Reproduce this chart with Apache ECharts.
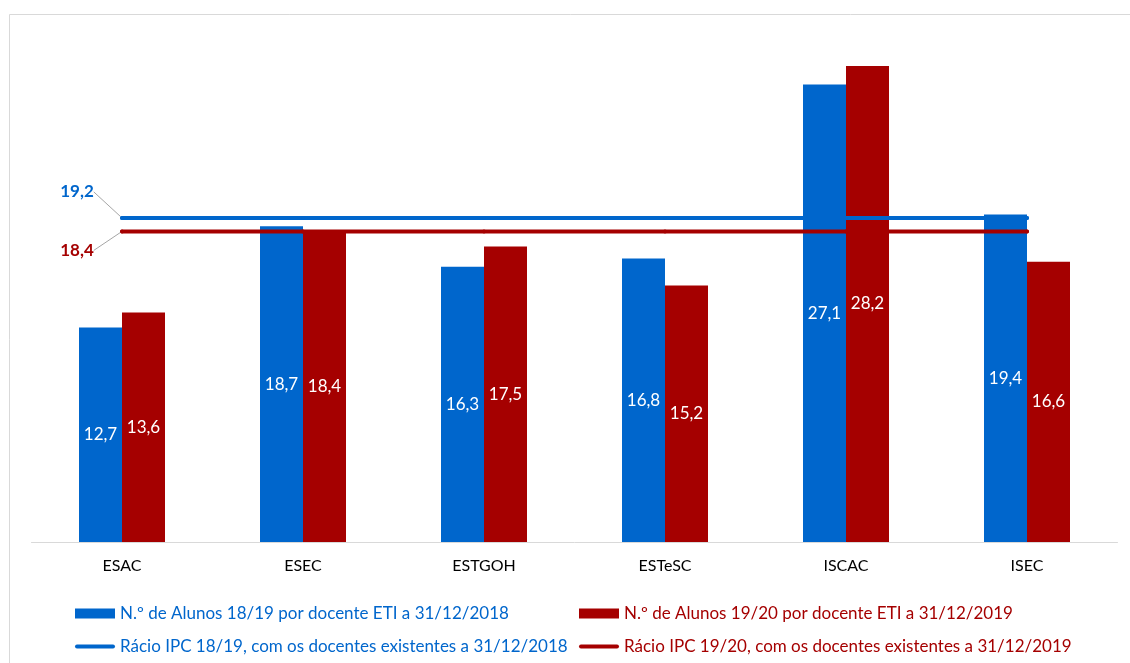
<!DOCTYPE html>
<html>
<head>
<meta charset="utf-8">
<script src="https://cdn.jsdelivr.net/npm/echarts@6/dist/echarts.min.js"></script>
<style>
html, body { margin: 0; padding: 0; background: #fff; }
#chart { width: 1130px; height: 663px; }
</style>
</head>
<body>
<div id="chart"></div>
<script>
'use strict';
var categories = ['ESAC', 'ESEC', 'ESTGOH', 'ESTeSC', 'ISCAC', 'ISEC'];
var alunos1819 = [12.7, 18.7, 16.3, 16.8, 27.1, 19.4];
var alunos1920 = [13.6, 18.4, 17.5, 15.2, 28.2, 16.6];
var racio1819 = [19.2, 19.2, 19.2, 19.2, 19.2, 19.2];
var racio1920 = [18.4, 18.4, 18.4, 18.4, 18.4, 18.4];

var names = [
	'N.º de Alunos 18/19 por docente ETI a 31/12/2018',
	'N.º de Alunos 19/20 por docente ETI a 31/12/2019',
	'Rácio IPC 18/19, com os docentes existentes a 31/12/2018',
	'Rácio IPC 19/20, com os docentes existentes a 31/12/2019'
];

var BLUE = '#0066cc';
var RED = '#a50000';
var FONT = 'Lato';
var lineIcon = 'path://M2,0 L38,0 A2,2 0 0 1 38,4 L2,4 A2,2 0 0 1 2,0 Z';

function fmt(v) {
	return v.toFixed(1).replace('.', ',');
}

function barSeries(name, data, color) {
	return {
		name: name,
		type: 'bar',
		data: data,
		barWidth: 43,
		barGap: '0%',
		itemStyle: { color: color },
		label: {
			show: true,
			position: 'inside',
			color: '#fff',
			fontFamily: FONT,
			fontSize: 17,
			formatter: function (p) { return fmt(p.value); }
		}
	};
}

// rótulo só no primeiro ponto, à esquerda, com linha de chamada
function lineSeries(name, data, color, dy) {
	var items = data.map(function (v, i) {
		return i === 0 ? { value: v, label: { show: true }, labelLine: { show: true } } : v;
	});
	return {
		name: name,
		type: 'line',
		data: items,
		z: 5,
		symbol: 'circle',
		symbolSize: 4,
		itemStyle: { color: color },
		lineStyle: { color: color, width: 4, cap: 'round' },
		label: {
			show: false,
			color: color,
			fontFamily: FONT,
			fontWeight: 'bold',
			fontSize: 17,
			align: 'center',
			verticalAlign: 'middle',
			formatter: function (p) { return fmt(p.value); }
		},
		labelLine: { show: false, lineStyle: { color: '#a6a6a6', width: 1 } },
		labelLayout: function (p) {
			var cx = p.rect.x + p.rect.width / 2;
			var cy = p.rect.y + p.rect.height / 2;
			return {
				x: cx - 45,
				y: cy + dy,
				labelLinePoints: [[cx, cy], [cx - 11, cy + dy], [cx - 19, cy + dy]]
			};
		},
		emphasis: { disabled: true }
	};
}

var chart = echarts.init(document.getElementById('chart'));
chart.setOption({
	backgroundColor: '#fff',
	animation: false,
	textStyle: { fontFamily: FONT },
	graphic: [{
		type: 'rect',
		left: 7, top: 12,
		shape: { width: 1200, height: 700 },
		style: { fill: 'none', stroke: '#d9d9d9', lineWidth: 1 },
		silent: true
	}],
	grid: { left: 31.5, right: 12.5, top: 35.6, bottom: 121, containLabel: false },
	xAxis: {
		type: 'category',
		data: categories,
		axisLine: { lineStyle: { color: '#d9d9d9', width: 1 } },
		axisTick: { show: false },
		axisLabel: { color: '#000', fontFamily: FONT, fontSize: 16, margin: 16 }
	},
	yAxis: {
		type: 'value',
		min: 0,
		max: 30,
		show: false,
		splitLine: { show: false }
	},
	legend: [{
		left: 70, top: 600, orient: 'vertical', itemGap: 16,
		itemWidth: 40, itemHeight: 10,
		textStyle: { fontFamily: FONT, fontSize: 17 },
		data: [
			{ name: names[0], icon: 'rect', textStyle: { color: BLUE } },
			{ name: names[2], icon: lineIcon, textStyle: { color: BLUE } }
		]
	}, {
		left: 574, top: 600, orient: 'vertical', itemGap: 16,
		itemWidth: 40, itemHeight: 10,
		textStyle: { fontFamily: FONT, fontSize: 17 },
		data: [
			{ name: names[1], icon: 'rect', textStyle: { color: RED } },
			{ name: names[3], icon: lineIcon, textStyle: { color: RED } }
		]
	}],
	series: [
		barSeries(names[0], alunos1819, BLUE),
		barSeries(names[1], alunos1920, RED),
		lineSeries(names[2], racio1819, BLUE, -26),
		lineSeries(names[3], racio1920, RED, 19)
	]
});
</script>
</body>
</html>
